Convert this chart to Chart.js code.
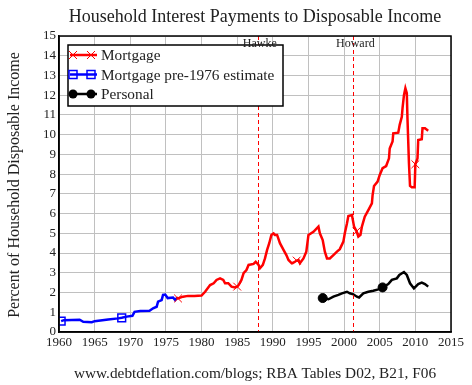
<!DOCTYPE html>
<html>
<head>
<meta charset="utf-8">
<script src="https://cdn.jsdelivr.net/npm/chart.js@4/dist/chart.umd.min.js"></script>
<style>
    html, body { margin: 0; padding: 0; background: #fff; }
    #wrap { width: 472px; height: 385px; }
</style>
</head>
<body>
<div id="wrap"><canvas id="interest-chart" width="472" height="385"></canvas></div>
<script>
// Data (year, percent of disposable income)
const mortgageYears = [1976.5, 1976.7, 1977.4, 1978.1, 1979.0, 1980.0, 1980.5, 1981.2, 1981.7, 1982.1, 1982.6, 1983.05, 1983.3, 1983.75, 1984.2, 1984.7, 1985.0, 1985.2, 1985.6, 1985.9, 1986.3, 1986.6, 1987.3, 1987.6, 1988.0, 1988.2, 1988.6, 1988.9, 1989.2, 1989.5, 1989.8, 1990.1, 1990.3, 1990.6, 1991.0, 1991.5, 1991.9, 1992.2, 1992.65, 1993.1, 1993.35, 1993.6, 1993.8, 1994.3, 1994.7, 1995.0, 1995.7, 1996.4, 1996.6, 1997.0, 1997.3, 1997.6, 1998.0, 1998.5, 1999.0, 1999.4, 1999.9, 2000.1, 2000.4, 2000.6, 2001.1, 2001.4, 2001.75, 2002.0, 2002.3, 2002.5, 2002.9, 2003.4, 2003.9, 2004.0, 2004.2, 2004.7, 2005.0, 2005.4, 2005.9, 2006.3, 2006.4, 2006.8, 2006.9, 2007.6, 2007.8, 2008.1, 2008.2, 2008.4, 2008.6, 2008.8, 2008.9, 2009.1, 2009.25, 2009.5, 2009.9, 2010.0, 2010.3, 2010.4, 2010.9, 2011.0, 2011.35, 2011.8];
const mortgageValues = [1.75, 1.7, 1.79, 1.83, 1.83, 1.85, 2.04, 2.38, 2.47, 2.64, 2.72, 2.64, 2.47, 2.47, 2.3, 2.26, 2.3, 2.38, 2.64, 2.98, 3.14, 3.4, 3.45, 3.56, 3.4, 3.23, 3.4, 3.73, 4.16, 4.5, 4.92, 5.0, 4.92, 4.92, 4.5, 4.16, 3.9, 3.65, 3.48, 3.56, 3.62, 3.65, 3.48, 3.73, 4.07, 4.92, 5.08, 5.34, 5.0, 4.66, 4.07, 3.73, 3.73, 3.9, 4.07, 4.2, 4.58, 5.0, 5.5, 5.88, 5.93, 5.34, 5.1, 4.83, 4.92, 5.34, 5.84, 6.18, 6.52, 6.94, 7.4, 7.62, 7.96, 8.3, 8.41, 8.8, 9.3, 9.65, 10.07, 10.1, 10.5, 10.9, 11.34, 12.0, 12.35, 12.1, 10.75, 8.55, 7.4, 7.33, 7.33, 8.5, 8.8, 9.73, 9.77, 10.32, 10.32, 10.2];
const mortgageMarks = [1976.7, 1985.0, 1993.35, 2001.75, 2010.0];

const estimateYears = [1960.3, 1960.7, 1962.9, 1963.4, 1964.6, 1965.0, 1966.9, 1968.3, 1968.8, 1969.5, 1970.3, 1970.6, 1971.4, 1972.7, 1973.2, 1973.7, 1973.9, 1974.4, 1974.6, 1974.9, 1975.25, 1976.0, 1976.3, 1976.6];
const estimateValues = [0.55, 0.6, 0.62, 0.52, 0.5, 0.55, 0.63, 0.69, 0.72, 0.78, 0.82, 1.02, 1.06, 1.08, 1.2, 1.28, 1.54, 1.62, 1.88, 1.9, 1.72, 1.75, 1.62, 1.75];
const estimateMarks = [1960.3, 1968.8];

const personalYears = [1996.6, 1997.0, 1997.8, 1998.5, 1999.2, 1999.7, 2000.4, 2000.8, 2001.3, 2001.8, 2002.1, 2002.7, 2003.4, 2004.1, 2004.8, 2005.4, 2006.2, 2006.7, 2007.4, 2007.75, 2008.4, 2008.8, 2009.25, 2009.8, 2010.4, 2010.9, 2011.35, 2011.8];
const personalValues = [1.76, 1.72, 1.66, 1.79, 1.88, 1.96, 2.04, 1.96, 1.91, 1.79, 1.75, 1.96, 2.04, 2.09, 2.16, 2.26, 2.43, 2.64, 2.72, 2.89, 3.04, 2.89, 2.47, 2.21, 2.43, 2.5, 2.43, 2.3];
const personalMarks = [1997.0, 2005.4];

const seriesNames = ['Mortgage', 'Mortgage pre-1976 estimate', 'Personal'];

// Prime ministers (dashed lines)
const pmNames = ['Hawke', 'Howard'];
const pmYears = [1987.9, 2001.3];

const SERIF = '"Liberation Serif", "DejaVu Serif", serif';

function toPoints(xs, ys) {
    return xs.map((x, i) => ({ x: x, y: ys[i] }));
}

function markRadius(marks, r) {
    return function(context) {
        const p = context.raw;
        if (!p) return 0;
        return marks.some(m => Math.abs(m - p.x) < 0.001) ? r : 0;
    };
}

// small legend marker, drawn by hand so it matches the plot markers
function drawMarker(c, style, color, x, y) {
    c.save();
    c.strokeStyle = color;
    c.fillStyle = color;
    c.lineWidth = 1;
    c.beginPath();
    if (style === 'crossRot') {
        c.moveTo(x - 4, y - 4); c.lineTo(x + 4, y + 4);
        c.moveTo(x + 4, y - 4); c.lineTo(x - 4, y + 4);
        c.stroke();
    } else if (style === 'rect') {
        c.lineWidth = 1.5;
        c.strokeRect(x - 4, y - 4, 8, 8);
    } else {
        c.arc(x, y, 4.5, 0, Math.PI * 2);
        c.fill();
    }
    c.restore();
}

// Title, footer, frame, PM lines and boxed legend
const decorations = {
    id: 'decorations',
    beforeDraw(chart) {
        const c = chart.ctx;
        c.save();
        c.fillStyle = '#fff';
        c.fillRect(0, 0, chart.width, chart.height);
        c.restore();
    },
    afterDraw(chart) {
        const c = chart.ctx;
        const area = chart.chartArea;
        const xs = chart.scales.x;

        c.save();
        c.fillStyle = '#222';
        c.textAlign = 'center';
        c.textBaseline = 'middle';
        c.font = '18px ' + SERIF;
        c.fillText('Household Interest Payments to Disposable Income', 255, 17);
        c.font = '15.3px ' + SERIF;
        c.fillText('www.debtdeflation.com/blogs; RBA Tables D02, B21, F06', 255, 374);

        c.save();
        c.translate(15, 185);
        c.rotate(-Math.PI / 2);
        c.font = '16px ' + SERIF;
        c.fillText('Percent of Household Disposable Income', 0, 0);
        c.restore();

        // dashed PM lines
        c.strokeStyle = '#ff0000';
        c.lineWidth = 1;
        c.setLineDash([4, 3]);
        pmYears.forEach(y => {
            const px = Math.round(xs.getPixelForValue(y)) + 0.5;
            c.beginPath();
            c.moveTo(px, area.top);
            c.lineTo(px, area.bottom);
            c.stroke();
        });
        c.setLineDash([]);

        // frame
        c.strokeStyle = '#000';
        c.lineWidth = 1.5;
        c.strokeRect(area.left, area.top, area.right - area.left, area.bottom - area.top);

        // legend box
        const lx = 68, ly = 45, lw = 215, lh = 61;
        c.fillStyle = '#fff';
        c.fillRect(lx, ly, lw, lh);
        c.strokeRect(lx, ly, lw, lh);

        c.font = '15.3px ' + SERIF;
        c.textAlign = 'left';
        chart.data.datasets.forEach((ds, i) => {
            const cy = 55 + i * 19.5;
            c.strokeStyle = ds.borderColor;
            c.lineWidth = 2.5;
            c.beginPath();
            c.moveTo(70, cy);
            c.lineTo(97, cy);
            c.stroke();
            drawMarker(c, ds.pointStyle, ds.borderColor, 73, cy);
            drawMarker(c, ds.pointStyle, ds.borderColor, 91, cy);
            c.fillStyle = '#222';
            c.fillText(ds.label, 101, cy + 1);
        });

        // PM labels sit on top of everything
        c.font = '12px ' + SERIF;
        c.textAlign = 'center';
        c.fillStyle = '#222';
        pmNames.forEach((n, i) => {
            c.fillText(n, xs.getPixelForValue(pmYears[i]) + 2, 44);
        });
        c.restore();
    }
};

document.addEventListener('DOMContentLoaded', function() {
    const ctx = document.getElementById('interest-chart').getContext('2d');

    new Chart(ctx, {
        type: 'line',
        data: {
            datasets: [
                {
                    label: seriesNames[0],
                    data: toPoints(mortgageYears, mortgageValues),
                    borderColor: '#ff0000',
                    backgroundColor: 'transparent',
                    borderWidth: 2.5,
                    pointStyle: 'crossRot',
                    pointRadius: markRadius(mortgageMarks, 5.5),
                    pointBorderColor: '#ff0000',
                    pointBorderWidth: 1,
                    tension: 0
                },
                {
                    label: seriesNames[1],
                    data: toPoints(estimateYears, estimateValues),
                    borderColor: '#0000ff',
                    backgroundColor: 'transparent',
                    borderWidth: 2.5,
                    pointStyle: 'rect',
                    pointRadius: markRadius(estimateMarks, 5.5),
                    pointBorderColor: '#0000ff',
                    pointBackgroundColor: 'transparent',
                    pointBorderWidth: 1.5,
                    tension: 0
                },
                {
                    label: seriesNames[2],
                    data: toPoints(personalYears, personalValues),
                    borderColor: '#000000',
                    backgroundColor: 'transparent',
                    borderWidth: 2.5,
                    pointStyle: 'circle',
                    pointRadius: markRadius(personalMarks, 4.5),
                    pointBorderColor: '#000',
                    pointBackgroundColor: '#000',
                    pointBorderWidth: 1,
                    tension: 0
                }
            ]
        },
        options: {
            responsive: false,
            animation: false,
            events: [],
            layout: {
                padding: { top: 36, right: 21, left: 0, bottom: 0 }
            },
            plugins: {
                legend: { display: false },
                title: { display: false },
                tooltip: { enabled: false }
            },
            scales: {
                x: {
                    type: 'linear',
                    min: 1960,
                    max: 2015,
                    afterFit: s => { s.height = 53; },
                    grid: { color: '#c0c0c0', lineWidth: 1, drawTicks: false },
                    border: { color: '#000', width: 1.5 },
                    ticks: {
                        stepSize: 5,
                        padding: 3,
                        color: '#222',
                        font: { family: SERIF, size: 13 },
                        callback: v => String(v)
                    }
                },
                y: {
                    min: 0,
                    max: 15,
                    afterFit: s => { s.width = 59; },
                    grid: { color: '#c0c0c0', lineWidth: 1, drawTicks: false },
                    border: { color: '#000', width: 1.5 },
                    ticks: {
                        stepSize: 1,
                        padding: 3,
                        color: '#222',
                        font: { family: SERIF, size: 13 }
                    }
                }
            }
        },
        plugins: [decorations]
    });
});
</script>
</body>
</html>
